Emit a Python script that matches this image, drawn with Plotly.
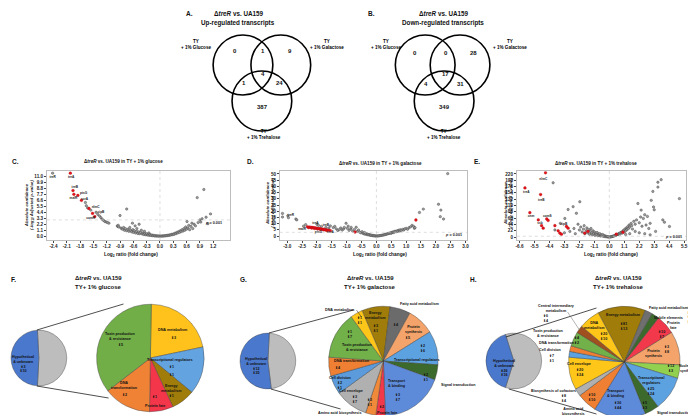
import plotly.graph_objects as go

W, H = 696, 415
FONT = "Liberation Sans, Arial, DejaVu Sans, sans-serif"
UP = "⬆"
DN = "⬇"


def px(x):
    return x / W


def py(y):
    return 1 - y / H


# ---------------- DATA ----------------
venn_sets = ["TY<br>+ 1% Glucose", "TY<br>+ 1% Galactose", "TY<br>+ 1% Trehalose"]
# order: Glc only, Glc&Gal, Gal only, Glc&Tre, all three, Gal&Tre, Tre only
venn_up = [0, 1, 9, 1, 4, 24, 387]
venn_down = [0, 0, 28, 4, 17, 31, 349]

# Volcano C (glucose)
C_grey = [(-2.42, 11.6), (-1.68, 6.2), (-1.66, 5.6), (-1.63, 5.2), (-1.56, 4.8), (-1.44, 4.4), (-1.4, 4.0),
          (-1.36, 3.7), (-1.33, 3.4), (-1.3, 3.1), (-1.27, 2.9), (-1.24, 2.7), (-1.21, 2.6), (-1.18, 2.5),
          (-1.15, 2.4), (-0.96, 1.9), (-0.95, 1.8), (-0.94, 2.0), (-0.93, 1.7), (-0.9, 3.8), (-0.75, 5.0),
          (-0.88, 1.5), (-0.85, 1.3), (-0.82, 1.6), (-0.8, 1.1), (-0.78, 1.4), (-0.75, 1.0), (-0.72, 1.3),
          (-0.7, 0.9), (-0.68, 1.6), (-0.66, 1.1), (-0.64, 0.8), (-0.62, 2.4), (-0.61, 1.2), (-0.6, 0.7),
          (-0.58, 1.0), (-0.56, 1.9), (-0.55, 0.6), (-0.53, 0.9), (-0.52, 1.4), (-0.5, 0.5), (-0.48, 0.8),
          (-0.47, 2.2), (-0.46, 0.45), (-0.44, 0.7), (-0.42, 1.1), (-0.4, 0.4), (-0.38, 0.6), (-0.36, 0.3),
          (-0.35, 0.9), (-0.34, 0.5), (-0.32, 0.25), (-0.3, 0.45), (-0.28, 0.2), (-0.26, 0.35), (-0.25, 0.6),
          (-0.24, 0.15), (-0.22, 0.3), (-0.2, 0.12), (-0.18, 0.22), (-0.16, 0.08), (-0.14, 0.15), (-0.12, 0.05),
          (-0.1, 0.1), (-0.08, 0.03), (-0.06, 0.06), (-0.04, 0.02), (-0.02, 0.04), (0.0, 0.01), (0.02, 0.03),
          (0.04, 0.02), (0.06, 0.05), (0.08, 0.04), (0.1, 0.08), (0.12, 0.06), (0.14, 0.12), (0.16, 0.1),
          (0.18, 0.18), (0.2, 0.15), (0.22, 0.25), (0.24, 0.2), (0.26, 0.32), (0.28, 0.28), (0.3, 0.42),
          (0.32, 0.35), (0.34, 0.55), (0.36, 0.45), (0.38, 0.7), (0.4, 0.6), (0.42, 0.85), (0.44, 0.7),
          (0.46, 1.0), (0.48, 0.85), (0.5, 1.2), (0.52, 0.95), (0.54, 1.4), (0.56, 1.1), (0.58, 1.7),
          (0.6, 1.3), (0.61, 2.7), (0.63, 1.5), (0.65, 2.0), (0.67, 1.2), (0.7, 1.8), (0.72, 2.4), (0.74, 1.4),
          (0.77, 2.2), (0.8, 1.9), (0.84, 7.1), (0.86, 2.5), (0.9, 3.0), (0.92, 2.6), (0.95, 3.2), (0.99, 8.6),
          (1.04, 3.5), (1.08, 2.3), (1.14, 4.1)]
C_red = [(-2.02, 11.6), (-1.96, 8.4), (-1.94, 7.7), (-1.85, 7.5), (-1.77, 6.6), (-1.6, 5.1), (-1.52, 4.2),
         (-1.47, 3.6)]
C_labels = [("treR", -2.42, 10.9), ("treA", -2.0, 10.9), ("treB", -1.92, 9.0), ("ptsG", -1.72, 7.9),
            ("malR", -1.95, 7.0), ("scrA", -1.7, 6.9), ("nlmC", -1.45, 5.4), ("cipB", -1.33, 4.5),
            ("comR", -1.56, 3.4)]
C_xticks = [-2.4, -2.1, -1.8, -1.5, -1.2, -0.9, -0.6, -0.3, 0.0, 0.3, 0.6, 0.9, 1.2]
C_yticks = [0.0, 1.1, 2.2, 3.3, 4.4, 5.5, 6.6, 7.7, 8.8, 9.9, 11.0]

# Volcano D (galactose)
D_grey = [(-3.16, 18.2), (-3.16, 15.3), (-2.98, 16.3), (-2.96, 14.8), (-2.71, 13.7), (-2.68, 13.0),
          (-2.45, 8.0), (-2.38, 9.2), (-2.0, 9.5), (-1.95, 8.6), (-1.85, 7.8), (-1.7, 7.0), (-1.6, 6.5),
          (-1.55, 8.2), (-1.45, 6.8), (-1.4, 7.8), (-1.35, 5.8), (-1.3, 4.5), (-1.25, 5.2), (-1.2, 6.5),
          (-1.15, 4.8), (-1.1, 5.8), (-1.02, 10.3), (-1.08, 7.0), (-0.98, 6.2), (-0.95, 8.0), (-0.92, 4.6),
          (-0.86, 5.8), (-0.85, 7.0), (-0.8, 4.0), (-0.74, 5.3), (-0.68, 7.1), (-0.64, 3.8), (-0.6, 4.9),
          (-0.56, 3.1), (-0.52, 2.6), (-0.48, 3.5), (-0.45, 2.2), (-0.42, 1.8), (-0.4, 2.8), (-0.38, 1.5),
          (-0.35, 2.0), (-0.32, 1.2), (-0.3, 1.6), (-0.28, 0.9), (-0.25, 1.2), (-0.22, 0.7), (-0.2, 0.9),
          (-0.18, 0.5), (-0.15, 0.6), (-0.12, 0.3), (-0.1, 0.4), (-0.08, 0.2), (-0.05, 0.15), (-0.02, 0.05),
          (0.0, 0.0), (0.03, 0.08), (0.06, 0.15), (0.09, 0.2), (0.12, 0.35), (0.15, 0.4), (0.18, 0.6),
          (0.21, 0.7), (0.24, 0.9), (0.27, 1.0), (0.3, 1.3), (0.33, 1.4), (0.36, 1.7), (0.39, 1.9),
          (0.42, 2.1), (0.45, 2.3), (0.48, 2.6), (0.5, 2.2), (0.52, 2.9), (0.55, 3.2), (0.58, 2.8),
          (0.6, 3.5), (0.63, 3.9), (0.66, 3.4), (0.7, 4.2), (0.72, 3.8), (0.75, 4.6), (0.78, 4.1), (0.8, 5.0),
          (0.84, 4.4), (0.88, 5.4), (0.92, 4.8), (0.95, 5.8), (1.0, 6.2), (1.05, 5.5), (1.1, 6.8),
          (1.15, 7.4), (1.2, 8.6), (1.25, 7.8), (1.28, 6.2), (1.3, 6.8), (1.45, 19.0), (1.58, 21.7),
          (2.09, 25.6), (2.17, 20.9), (2.15, 15.6), (2.26, 13.7), (2.4, 50.3)]
D_red = [(-2.32, 7.4), (-2.28, 6.8), (-2.25, 7.2), (-2.2, 7.0), (-2.18, 6.4), (-2.15, 6.9), (-2.1, 6.6),
         (-2.08, 6.1), (-2.05, 6.5), (-2.0, 6.2), (-1.98, 5.7), (-1.95, 6.0), (-1.9, 5.9), (-1.88, 5.3),
         (-1.85, 5.6), (-1.8, 5.5), (-1.78, 5.0), (-1.75, 5.2), (-1.7, 5.0), (-1.68, 4.6), (-1.65, 4.8),
         (-1.6, 4.5), (-1.55, 4.3), (-0.72, 3.2), (1.33, 12.9)]
D_labels = [("treR", -2.88, 16.8), ("treA", -2.05, 10.0), ("treB", -1.7, 8.9), ("malR", -2.5, 5.2),
            ("ptsG", -1.95, 3.3), ("scrA", -1.55, 2.9)]
D_xticks = [-3.0, -2.5, -2.0, -1.5, -1.0, -0.5, 0.0, 0.5, 1.0, 1.5, 2.0, 2.5, 3.0]
D_yticks = [0, 5, 10, 15, 20, 25, 30, 35, 40, 45, 50]

# Volcano E (trehalose)
E_grey = [(-4.13, 189), (-2.42, 83), (-3.03, 96), (-2.66, 106), (-2.17, 123), (-3.27, 65), (-3.6, 48),
          (-4.0, 25), (-3.3, 15), (-2.9, 20), (-2.6, 30), (-2.5, 12), (-2.3, 45), (-2.2, 25), (-2.1, 35),
          (-2.0, 18), (-1.9, 28), (-1.85, 40), (-1.8, 12), (-1.7, 22), (-1.65, 32), (-1.6, 15), (-1.5, 26),
          (-1.45, 10), (-1.4, 20), (-1.35, 30), (-1.3, 14), (-1.25, 8), (-1.2, 22), (-1.15, 12), (-1.1, 18),
          (-1.05, 6), (-1.0, 14), (-0.95, 9), (-0.9, 16), (-0.85, 5), (-0.8, 11), (-0.75, 7), (-0.7, 12),
          (-0.65, 4), (-0.6, 8), (-0.55, 5), (-0.5, 9), (-0.45, 3), (-0.4, 6), (-0.35, 2.5), (-0.3, 4),
          (-0.25, 1.5), (-0.2, 2.5), (-0.15, 1), (-0.1, 1.5), (-0.05, 0.5), (0.0, 0.2), (0.05, 0.6),
          (0.1, 1.2), (0.15, 1.5), (0.2, 2.2), (0.25, 2.8), (0.3, 3.5), (0.35, 4.5), (0.4, 5), (0.45, 6.5),
          (0.5, 7), (0.55, 8.5), (0.6, 10), (0.65, 9), (0.7, 12), (0.75, 14), (0.8, 11), (0.85, 16),
          (0.9, 18), (0.95, 14), (1.0, 20), (1.05, 24), (1.1, 18), (1.15, 28), (1.2, 22), (1.25, 32),
          (1.3, 26), (1.35, 36), (1.4, 30), (1.45, 42), (1.5, 35), (1.6, 48), (1.65, 40), (1.7, 28),
          (1.8, 55), (1.9, 45), (2.0, 60), (2.1, 117), (2.2, 50), (2.3, 70), (2.34, 94), (2.4, 38),
          (2.5, 65), (2.6, 78), (2.7, 42), (2.8, 72), (2.9, 30), (3.0, 48), (3.08, 128), (3.2, 159),
          (3.25, 105), (3.3, 95), (3.4, 20), (3.57, 174), (3.57, 191), (3.81, 200), (3.93, 60), (4.05, 52),
          (4.42, 37), (5.15, 134), (2.2, 15), (1.9, 20), (2.6, 12), (3.0, 8), (1.5, 12), (1.2, 9)]
E_red = [(-4.69, 223.6), (-6.2, 171), (-5.05, 148), (-5.84, 85), (-5.22, 60), (-4.6, 63), (-4.5, 58),
         (-4.98, 40), (-4.86, 31), (-4.0, 40), (-3.76, 22), (-3.64, 14), (-3.52, 10), (-3.15, 37),
         (-3.03, 31), (-1.81, 14), (-1.57, 20), (0.51, 10), (1.0, 17)]
E_labels = [("nlmC", -4.85, 200), ("treA", -6.1, 155), ("treB", -5.0, 130), ("cnm", -5.75, 72),
            ("comS", -4.55, 74), ("ssb", -5.1, 48), ("cipB", -3.35, 46)]
E_xticks = [-6.6, -5.5, -4.4, -3.3, -2.2, -1.1, 0.0, 1.1, 2.2, 3.3, 4.4, 5.5]
E_yticks = [0, 22, 44, 66, 88, 110, 132, 154, 176, 198, 220]

# Pie F (glucose): values = gene counts
F_small_labels = ["Other categories", "Hypothetical & unknown"]
F_small_values = [186, 174]
F_labels = ["DNA metabolism", "Transcriptional regulators", "Energy metabolism", "Protein fate",
            "DNA transformation", "Toxin production & resistance"]
F_values = [3, 2, 1, 1, 2, 5]
F_colors = ["#FFC21C", "#63A3E0", "#A07C0A", "#F4364A", "#F08236", "#72AE48"]

# Pie G (galactose): slice sizes (degrees)
G_small_labels = ["Other categories", "Hypothetical & unknown"]
G_small_values = [170, 190]
G_labels = ["Energy metabolism", "Fatty acid metabolism", "Protein synthesis", "Transcriptional regulators",
            "Signal transduction", "Transport & binding", "Protein fate", "Amino acid biosynthesis",
            "Cell envelope", "Cell division", "DNA transformation", "Toxin production & resistance",
            "DNA metabolism"]
G_values = [30, 22, 29, 36, 16, 68, 10, 11, 35, 20, 20, 50, 13]
G_colors = ["#A07C0A", "#6B6B6B", "#F4A46A", "#5DA2E0", "#3C6A2C", "#5E8BD9", "#F2394B", "#F08A3A",
            "#B0B0B0", "#5B9BDB", "#EE7F33", "#72B04A", "#FFC61A"]

# Pie H (trehalose)
H_small_labels = ["Other categories", "Hypothetical & unknown"]
H_small_values = [215, 145]
H_labels = ["Energy metabolism", "Fatty acid metabolism", "Mobile elements", "Protein fate", "Protein synthesis",
            "Nucleotide synthesis", "Transcriptional regulators", "Signal transduction", "Transport & binding",
            "Amino acid biosynthesis", "Biosynthesis of cofactors", "Cell envelope", "Cell division",
            "DNA transformation", "Toxin production & resistance", "Central intermediary metabolism",
            "DNA metabolism"]
H_values = [50, 8, 8, 20, 35, 14, 36, 15, 54, 21, 8, 34, 6, 6, 15, 8, 22]
H_colors = ["#A07C0A", "#6F6F6F", "#3C6A2C", "#F2394B", "#F4A46A", "#92D050", "#5DA2E0", "#3C6A2C",
            "#5E8BD9", "#EE7F33", "#B0B0B0", "#FFC61A", "#5DA2E0", "#EE7F33", "#72B04A", "#A0501E",
            "#FFC61A"]

# ---------------- FIGURE ----------------
fig = go.Figure()
ann = []
shapes = []


def text(X, Y, t, size=5, bold=True, xa="center", ya="middle", color="#111", angle=0, italic=False):
    s = t.replace("↑", UP).replace("↓", DN)
    if bold:
        s = "<b>" + s + "</b>"
    if italic:
        s = "<i>" + s + "</i>"
    ann.append(dict(x=px(X), y=py(Y), xref="paper", yref="paper", text=s, showarrow=False,
                    xanchor=xa, yanchor=ya, textangle=angle, borderpad=0,
                    font=dict(family=FONT, size=size, color=color)))


def line(x0, y0, x1, y1, w=0.8, color="#222"):
    shapes.append(dict(type="line", xref="paper", yref="paper", x0=px(x0), y0=py(y0), x1=px(x1), y1=py(y1),
                       line=dict(color=color, width=w)))


def circle(cx, cy, r):
    shapes.append(dict(type="circle", xref="paper", yref="paper", x0=px(cx - r), x1=px(cx + r),
                       y0=py(cy + r), y1=py(cy - r), line=dict(color="#000", width=1.6)))


# Venn diagrams
def venn(letter, lx, tx, circles, counts, count_pos, label_pos, title2):
    text(lx, 5, letter, size=6.5)
    text(tx, 5, "Δ<i>treR</i> vs. UA159", size=6.3)
    text(tx, 15, title2, size=6.3)
    for (cx, cy) in circles:
        circle(cx, cy, 30)
    for c, (X, Y) in zip(counts, count_pos):
        text(X, Y, str(c), size=6)
    for s, (X, Y) in zip(venn_sets, label_pos):
        text(X, Y, s, size=4.6, color="#000")


venn("A.", 181, 230, [(235, 57), (273, 57), (254, 93)], venn_up,
     [(227, 43), (255, 43), (282, 43), (236, 75), (255, 66), (272, 75), (255, 99)],
     [(188, 37), (319, 37), (256, 126)], "Up-regulated transcripts")
venn("B.", 364, 436, [(418, 57), (453, 57), (437, 93)], venn_down,
     [(408, 45), (439, 45), (467, 45), (419, 76), (438, 66), (453, 76), (437, 99)],
     [(379, 37), (503, 37), (437, 126)], "Down-regulated transcripts")

# Volcano plots
axis_base = dict(showgrid=False, zeroline=False, showline=True, linecolor="#BDBDBD", linewidth=0.8,
                 mirror=True, ticks="outside", ticklen=2, tickwidth=0.6, tickcolor="#444",
                 tickfont=dict(family=FONT, size=4.6, color="#222", weight="bold"), tickmode="array")

volcanos = [
    ("", C_grey, C_red, C_labels, C_xticks, C_yticks, [-2.55, 1.58], [-0.7, 12.0], (38, 222),
     "{:.1f}", "{:.1f}", "glucose", (7, 153), "C.", (115, 153), (123, 247), (20, 197), (1.45, 2.4)),
    ("2", D_grey, D_red, D_labels, D_xticks, D_yticks, [-3.25, 3.05], [-3.2, 52.4], (272, 460),
     "{:.1f}", "{:d}", "galactose", (243, 153), "D.", (373, 155), (373, 247), (262, 195), (2.95, 0.9)),
    ("3", E_grey, E_red, E_labels, E_xticks, E_yticks, [-6.8, 5.64], [-10, 230], (510, 680),
     "{:.1f}", "{:d}", "trehalose", (470, 153), "E.", (590, 155), (605, 247), (501, 195), (5.5, -1)),
]

for (sfx, grey, red, labs, xt, yt, xr, yr, (x0, x1), xf, yf, sugar, lpos, letter, tpos, xtpos, ytpos,
     ppos) in volcanos:
    xa = "x" + sfx
    ya = "y" + sfx
    fig.add_trace(go.Scatter(x=[p[0] for p in grey], y=[p[1] for p in grey], mode="markers",
                             xaxis=xa, yaxis=ya, showlegend=False, hoverinfo="skip",
                             marker=dict(symbol="circle", size=2.4, color="#A0A0A0",
                                         line=dict(color="#333333", width=0.4))))
    fig.add_trace(go.Scatter(x=[p[0] for p in red], y=[p[1] for p in red], mode="markers",
                             xaxis=xa, yaxis=ya, showlegend=False, hoverinfo="skip",
                             marker=dict(symbol="circle", size=2.8, color="#E3141E",
                                         line=dict(color="#B00000", width=0.3))))
    fig.add_trace(go.Scatter(x=[l[1] for l in labs], y=[l[2] for l in labs], mode="text",
                             text=["<b>" + l[0] + "</b>" for l in labs], xaxis=xa, yaxis=ya,
                             showlegend=False, hoverinfo="skip",
                             textfont=dict(family=FONT, size=3.2, color="#222")))
    xk = "xaxis" + sfx
    yk = "yaxis" + sfx
    fig.layout[xk] = dict(axis_base, domain=[px(x0), px(x1)], range=xr, tickvals=xt,
                          ticktext=[xf.format(v) for v in xt], anchor=ya)
    fig.layout[yk] = dict(axis_base, domain=[py(232), py(163)], range=yr, tickvals=yt,
                          ticktext=[yf.format(v) for v in yt], anchor=xa)
    # reference lines (p = 0.001 and zero fold change)
    shapes.append(dict(type="line", xref=xa + " domain", yref=ya, x0=0, x1=1, y0=3, y1=3,
                       line=dict(color="#C8C8C8", width=0.6, dash="dot")))
    shapes.append(dict(type="line", xref=xa, yref=ya + " domain", x0=0, x1=0, y0=0, y1=1,
                       line=dict(color="#C8C8C8", width=0.6, dash="dot")))
    ann.append(dict(x=ppos[0], y=ppos[1], xref=xa, yref=ya, text="<b><i>p</i> = 0.001</b>",
                    showarrow=False, xanchor="right", yanchor="middle",
                    font=dict(family=FONT, size=3.8, color="#222")))
    text(lpos[0], lpos[1], letter, size=6.5)
    text(tpos[0], tpos[1], "Δ<i>treR</i> vs. UA159 in TY + 1% " + sugar, size=4.6)
    text(xtpos[0], xtpos[1], "Log<sub>2</sub> ratio (fold change)", size=4.8)
    text(ytpos[0], ytpos[1], "Absolute confidence<br>(-log<sub>10</sub> Adjusted <i>p</i>-value)",
         size=4.3, angle=-90, italic=True)


# Pie charts
def pie(cx, cy, r, labels, values, colors, rotation):
    fig.add_trace(go.Pie(labels=labels, values=values, sort=False, direction="clockwise",
                         rotation=rotation, textinfo="none", hoverinfo="skip", showlegend=False,
                         marker=dict(colors=colors, line=dict(color="#3A3A3A", width=0.4)),
                         domain=dict(x=[px(cx - r), px(cx + r)], y=[py(cy + r), py(cy - r)])))


GREY = "#BDBDBD"
BLUE = "#4A78CC"
pie(30, 350, 28, F_small_labels, F_small_values, [GREY, BLUE], -3)
pie(142, 350, 54, F_labels, F_values, F_colors, 1)
pie(260, 353, 28, G_small_labels, G_small_values, [GREY, BLUE], 3)
pie(376, 353, 55, G_labels, G_values, G_colors, -23)
pie(507, 353, 28, H_small_labels, H_small_values, [GREY, BLUE], -17.5)
pie(618, 354, 56, H_labels, H_values, H_colors, -28)

# connector lines
line(28, 322, 115, 296)
line(28, 378, 100, 390)
line(261, 325, 346, 302)
line(263, 381, 333, 401)
line(499, 329, 590, 300)
line(502, 381, 590, 406)
# leader lines
line(349, 302, 354, 309, w=0.5)
line(561, 304, 573, 322, w=0.5, color="#666")

# Pie titles
for (lx, tx, sugar, letter) in [(5, 90, "glucose", "F."), (236, 363, "galactose", "G."),
                                (467, 612, "trehalose", "H.")]:
    text(lx, 271, letter, size=6.5)
    text(tx, 270, "Δ<i>treR</i> vs. UA159", size=6)
    text(tx, 279, "TY+ 1% " + sugar, size=6)

PS = 3.7
# F labels
text(14, 356, "Hypothetical<br>& unknown<br>↑3<br>↓10", size=PS)
text(112, 328, "Toxin production<br>& resistance", size=PS)
text(112, 337, "↓5", size=PS)
text(165, 322, "DNA metabolism", size=PS)
text(165, 330, "↓3", size=PS)
text(162, 352, "Transcriptional regulators", size=PS)
text(163, 359, "↑1", size=PS)
text(163, 367, "↓1", size=PS)
text(163, 383, "Energy<br>metabolism<br>↑1", size=PS)
text(146, 389, "↑1", size=PS)
text(147, 398, "Protein fate", size=PS)
text(116, 377, "DNA<br>transformation", size=PS)
text(116, 387, "↓2", size=PS)

# G labels
text(248, 358, "Hypothetical<br>& unknown<br>↑12<br>↓35", size=PS)
text(349, 302, "DNA metabolism", size=PS, xa="right")
text(352, 312, "↑1<br>↓1", size=PS)
text(368, 307, "Energy<br>metabolism", size=PS)
text(368, 320, "↑3<br>↓1", size=PS)
text(412, 296, "Fatty acid metabolism", size=PS)
text(389, 317, "↓4", size=PS)
text(406, 321, "Protein<br>synthesis", size=PS)
text(400, 330, "↓5", size=PS)
text(415, 340, "↑2<br>↓6", size=PS)
text(410, 352, "Transcriptional regulators", size=PS)
text(418, 369, "↑2<br>↓1", size=PS)
text(433, 377, "Signal transduction", size=PS, xa="left")
text(390, 375, "Transport<br>& binding", size=PS)
text(390, 389, "↑3<br>↓7", size=PS)
text(374, 399, "↑2", size=PS)
text(380, 405, "Protein fate", size=PS)
text(362, 394, "↑2<br>↓1", size=PS)
text(332, 405, "Amino acid biosynthesis", size=PS)
text(343, 383, "Cell envelope", size=PS)
text(347, 391, "↑3<br>↓7", size=PS)
text(332, 370, "Cell division", size=PS)
text(332, 377, "↓2<br>↑1", size=PS)
text(344, 353, "DNA transformation", size=PS)
text(330, 360, "↓4", size=PS)
text(342, 326, "↑1<br>↓7", size=PS)
text(350, 339, "Toxin production<br>& resistance", size=PS)

# H labels
text(497, 360, "Hypothetical<br>& unknown<br>↑26<br>↓16", size=PS)
text(550, 300, "Central intermediary<br>metabolism", size=PS)
text(539, 310, "↑6<br>↓4", size=PS)
text(542, 325, "Toxin production<br>& resistance", size=PS)
text(550, 335, "DNA transformation", size=PS)
text(543, 342, "Cell division", size=PS)
text(545, 350, "↑7<br>↓1", size=PS)
text(547, 383, "Biosynthesis of cofactors", size=PS)
text(557, 390, "↑8<br>↓4", size=PS)
text(567, 403, "Amino acid<br>biosynthesis", size=PS)
text(585, 389, "↑10<br>↓10", size=PS)
text(572, 356, "Cell envelope", size=PS)
text(573, 364, "↑20<br>↓24", size=PS)
text(570, 332, "↑4<br>↑2", size=PS)
text(588, 317, "DNA<br>metabolism", size=PS)
text(597, 328, "↑20<br>↓10", size=PS)
text(617, 307, "Energy metabolism", size=PS)
text(617, 318, "↑81<br>↓13", size=PS)
text(662, 300, "Fatty acid metabolism", size=PS)
text(683, 302, "↑6<br>↓5", size=PS)
text(662, 310, "Mobile elements", size=PS)
text(684, 311, "↑4<br>↓6", size=PS)
text(667, 317, "Protein<br>fate", size=PS)
text(655, 326, "↑10<br>↓7", size=PS)
text(647, 345, "Protein<br>synthesis", size=PS)
text(660, 341, "↑3<br>↓8", size=PS)
text(692, 360, "Nucleotide<br>synthesis", size=3.5, xa="right")
text(664, 360, "↑12<br>↓3", size=PS)
text(645, 372, "Transcriptional<br>regulators", size=PS)
text(645, 383, "↑25<br>↓24", size=PS)
text(650, 405, "Signal transduction", size=PS, xa="left")
text(638, 397, "↑5<br>↓3", size=PS)
text(610, 385, "Transport<br>& binding", size=PS)
text(612, 397, "↑36<br>↓44", size=PS)

fig.update_layout(width=W, height=H, margin=dict(l=0, r=0, t=0, b=0), paper_bgcolor="white",
                  plot_bgcolor="white", annotations=ann, shapes=shapes,
                  font=dict(family=FONT, color="#111"))

fig.write_html("out.html")
